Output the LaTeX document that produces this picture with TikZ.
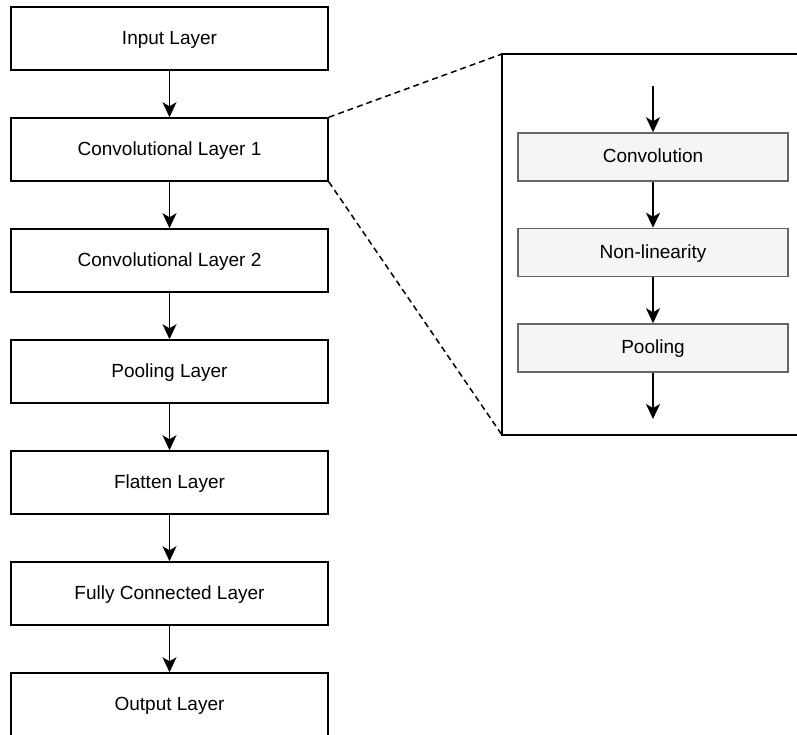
\documentclass[tikz,border=0pt]{standalone}
\usepackage{fontspec}
\setmainfont{Liberation Sans}
\usetikzlibrary{arrows.meta}
\begin{document}
\begin{tikzpicture}[x=1pt,y=-1pt,
  layer/.style={draw=black,line width=1.5pt,fill=white,minimum width=317pt,minimum height=63pt,inner sep=0pt,text height=13.5pt,text depth=2pt,font=\fontsize{19}{22}\selectfont},
  sub/.style={draw=black!60,line width=1.5pt,fill=black!4,minimum width=270pt,minimum height=48pt,inner sep=0pt,text height=13.5pt,text depth=2pt,font=\fontsize{19}{22}\selectfont},
  arr/.style={line width=1.4pt,-{Stealth[length=15pt,width=14pt,inset=4pt]}},
  zoomline/.style={line width=1.5pt,dash pattern=on 6pt off 4pt}]
\useasboundingbox (0,0) rectangle (797,735);
\clip (0,0) rectangle (797,735);
\node[layer] (in) at (169.5,38.5) {Input Layer};
\node[layer] (c1) at (169.5,149.5) {Convolutional Layer 1};
\node[layer] (c2) at (169.5,260.5) {Convolutional Layer 2};
\node[layer] (pl) at (169.5,371.5) {Pooling Layer};
\node[layer] (fl) at (169.5,482.5) {Flatten Layer};
\node[layer] (fc) at (169.5,593.5) {Fully Connected Layer};
\node[layer] (out) at (169.5,704.5) {Output Layer};
\draw[arr] (in) -- (c1);
\draw[arr] (c1) -- (c2);
\draw[arr] (c2) -- (pl);
\draw[arr] (pl) -- (fl);
\draw[arr] (fl) -- (fc);
\draw[arr] (fc) -- (out);
% zoom panel
\draw[line width=1.5pt] (820,54) -- (502,54) coordinate (ztl) -- (502,435) coordinate (zbl) -- (820,435);
\draw[zoomline] (c1.north east) -- (ztl);
\draw[zoomline] (c1.south east) -- (zbl);
\node[sub] (cv) at (653,157) {Convolution};
\node[sub] (nl) at (653,252.5) {Non-linearity};
\node[sub] (po) at (653,348) {Pooling};
\coordinate (sin) at (653,86);
\coordinate (sout) at (653,419);
\draw[arr] (sin) -- (cv);
\draw[arr] (cv) -- (nl);
\draw[arr] (nl) -- (po);
\draw[arr] (po) -- (sout);
\end{tikzpicture}
\end{document}
